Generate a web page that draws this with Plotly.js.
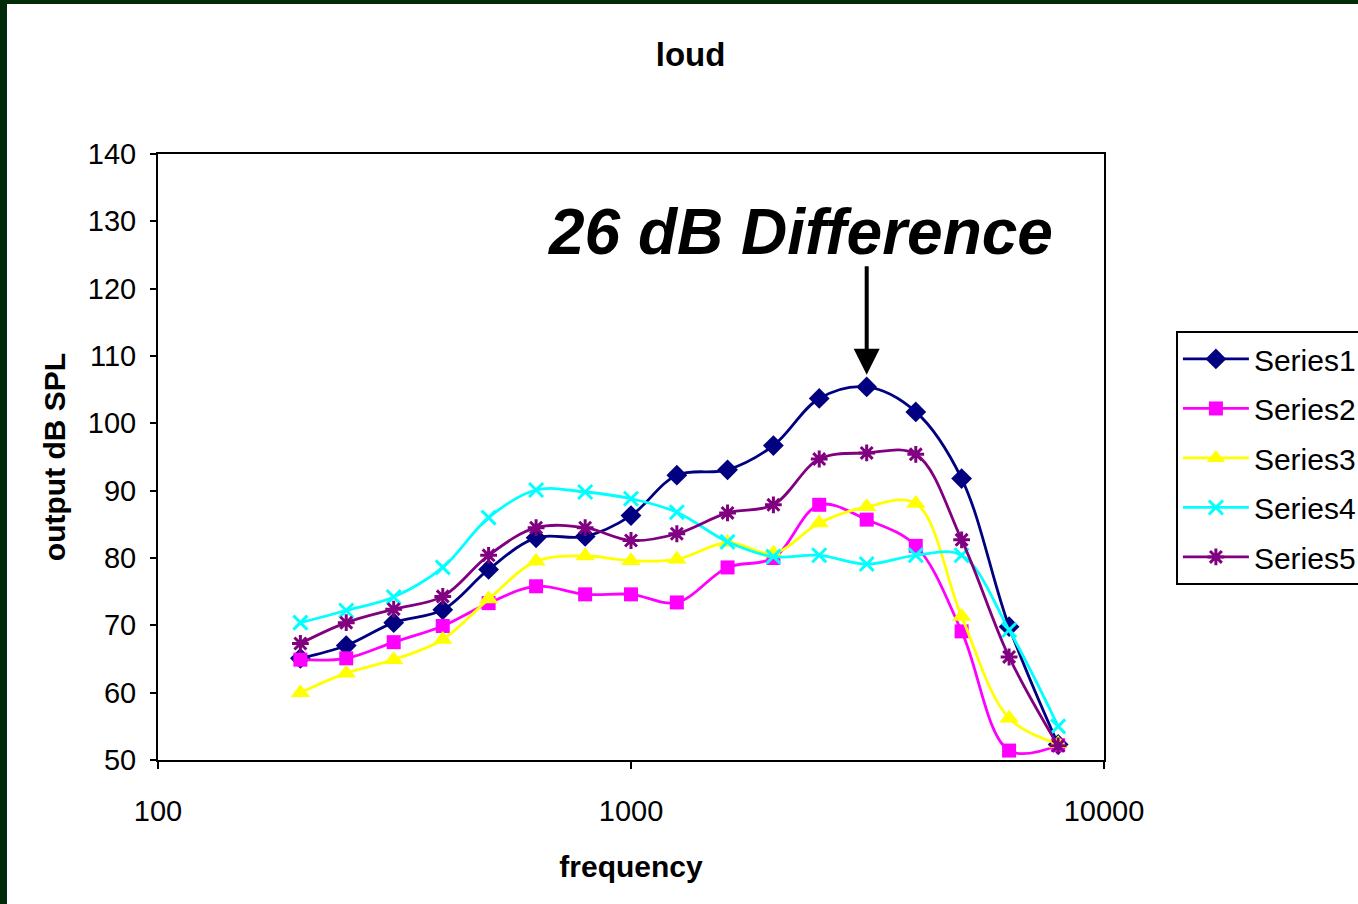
<!DOCTYPE html>
<html>
<head>
<meta charset="utf-8">
<script src="https://cdn.plot.ly/plotly-3.0.1.min.js"></script>
<style>
  html, body { margin: 0; padding: 0; background: #002a08; overflow: hidden; }
  #chart { position: absolute; left: 7px; top: 4px; width: 1351px; height: 900px; background: #fff; }
</style>
</head>
<body>
<div id="chart"></div>
<script>
// One-third-octave band centre frequencies (Hz)
const frequency = [200, 250, 315, 400, 500, 630, 800, 1000, 1250, 1600, 2000, 2500, 3150, 4000, 5000, 6300, 8000];

// Output level (dB SPL) for each series
const series1 = [65.1, 67.0, 70.4, 72.3, 78.3, 83.0, 83.2, 86.3, 92.3, 93.1, 96.7, 103.7, 105.4, 101.7, 91.8, 69.8, 52.3];
const series2 = [64.9, 65.1, 67.5, 69.9, 73.3, 75.8, 74.6, 74.6, 73.4, 78.6, 80.0, 87.9, 85.7, 81.8, 69.1, 51.4, 52.2];
const series3 = [60.0, 62.9, 64.9, 67.9, 73.9, 79.5, 80.3, 79.6, 79.8, 82.3, 80.7, 85.2, 87.6, 88.1, 71.3, 56.2, 52.4];
const series4 = [70.4, 72.2, 74.2, 78.6, 86.0, 90.1, 89.8, 88.8, 86.8, 82.4, 80.2, 80.4, 79.1, 80.4, 80.4, 69.3, 55.0];
const series5 = [67.3, 70.4, 72.4, 74.3, 80.4, 84.5, 84.5, 82.6, 83.6, 86.7, 87.9, 94.7, 95.6, 95.4, 82.7, 65.3, 52.1];

const seriesNames = ['Series1', 'Series2', 'Series3', 'Series4', 'Series5'];
const seriesData = [series1, series2, series3, series4, series5];
const colors = ['#000080', '#FF00FF', '#FFFF00', '#00FFFF', '#800080'];
const symbols = ['diamond', 'square', 'triangle-up', 'x-thin-open', 'asterisk-open'];
const sizes = [16, 14, 17, 14, 14];

// Callout marking the gap between the highest and lowest curve
const calloutText = '26 dB Difference';
const calloutFreq = 3150;
const calloutLevel = 107.2;

const FONT = '"Liberation Sans", Arial, Helvetica, sans-serif';

const traces = seriesData.map((ys, i) => ({
  type: 'scatter',
  mode: 'lines+markers',
  name: seriesNames[i],
  legendgroup: 'g' + i,
  x: frequency,
  y: ys,
  line: { color: colors[i], width: 2.8, shape: 'spline', smoothing: 1 },
  marker: {
    symbol: symbols[i],
    size: sizes[i],
    color: colors[i],
    line: { color: colors[i], width: (i >= 3) ? 3 : 0 }
  }
}));

const layout = {
  width: 1351,
  height: 900,
  paper_bgcolor: '#ffffff',
  plot_bgcolor: '#ffffff',
  margin: { l: 151, r: 254, t: 150, b: 144, autoexpand: false },
  font: { family: FONT, color: '#000', size: 28 },
  showlegend: true,
  title: {
    text: '<b>loud</b>',
    font: { family: FONT, size: 33, color: '#000' },
    xref: 'container', x: 0.506, xanchor: 'center',
    yref: 'container', y: 0.944, yanchor: 'middle'
  },
  xaxis: {
    type: 'log',
    range: [2, 4],
    tickvals: [100, 1000, 10000],
    ticktext: ['100', '1000', '10000'],
    ticks: 'outside', ticklen: 7, tickwidth: 2, tickcolor: '#000',
    ticklabelstandoff: 17,
    showline: true, linecolor: '#000', linewidth: 2, mirror: true,
    showgrid: false, zeroline: false,
    tickfont: { family: FONT, size: 29, color: '#000' },
    title: { text: '<b>frequency</b>', font: { family: FONT, size: 30, color: '#000' }, standoff: 30 }
  },
  yaxis: {
    range: [50, 140],
    dtick: 10,
    ticks: 'outside', ticklen: 6, tickwidth: 2, tickcolor: '#000',
    ticklabelstandoff: 8,
    showline: true, linecolor: '#000', linewidth: 2, mirror: true,
    showgrid: false, zeroline: false,
    tickfont: { family: FONT, size: 29, color: '#000' },
    title: { text: '<b>output dB SPL</b>', font: { family: FONT, size: 30, color: '#000' }, standoff: 13 }
  },
  legend: {
    x: 1.076, xanchor: 'left',
    y: 0.708, yanchor: 'top',
    bgcolor: '#ffffff',
    bordercolor: '#000', borderwidth: 2,
    font: { family: FONT, size: 30, color: '#000' },
    traceorder: 'grouped',
    tracegroupgap: 7.5,
    itemwidth: 66
  },
  annotations: [
    {
      text: '<b><i>' + calloutText + '</i></b>',
      xref: 'paper', yref: 'paper',
      x: 0.679, y: 0.872, xanchor: 'center', yanchor: 'middle',
      showarrow: false,
      font: { family: FONT, size: 64, color: '#000' }
    },
    {
      text: '',
      xref: 'x', yref: 'y',
      x: Math.log10(calloutFreq), y: calloutLevel,
      showarrow: true,
      arrowhead: 2, arrowsize: 1.3, arrowwidth: 4, arrowcolor: '#000',
      ax: 0, ay: -110, standoff: 0
    }
  ]
};

Plotly.newPlot('chart', traces, layout, { displayModeBar: false, staticPlot: true });
</script>
</body>
</html>
